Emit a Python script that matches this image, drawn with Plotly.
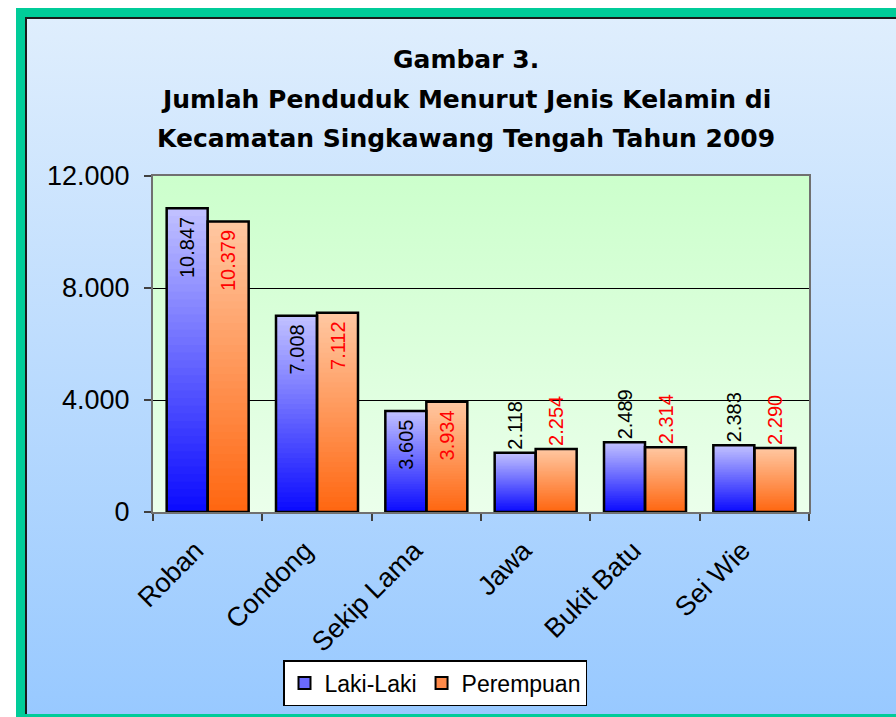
import base64
import plotly.graph_objects as go

# ---- data ----
categories = ["Roban", "Condong", "Sekip Lama", "Jawa", "Bukit Batu", "Sei Wie"]
laki = [10847, 7008, 3605, 2118, 2489, 2383]
perempuan = [10379, 7112, 3934, 2254, 2314, 2290]
series_names = ["Laki-Laki", "Perempuan"]
ytick_vals = [0, 4000, 8000, 12000]
ytick_text = ["0", "4.000", "8.000", "12.000"]
title_lines = ["Gambar 3.",
               "Jumlah Penduduk Menurut Jenis Kelamin di",
               "Kecamatan Singkawang Tengah Tahun 2009"]
label_pos = ["inside", "inside", "inside", "outside", "outside", "outside"]

W, H = 896, 717
ML, MR, MT, MB = 153, 87, 176, 205
PW, PH = W - ML - MR, H - MT - MB


def lerp(c1, c2, t):
    return "rgb(%d,%d,%d)" % tuple(round(a + (b - a) * t) for a, b in zip(c1, c2))


def fmt(v, pos):
    s = f"{v:,}".replace(",", ".")
    return s + "\u00a0" if pos == "inside" else s


fig = go.Figure()

N = 40
specs = [
    (laki, "L", (10, 10, 255), (194, 194, 255), "#000000", "#6a6aff"),
    (perempuan, "P", (255, 102, 16), (255, 200, 162), "#ff0000", "#ff8a4a"),
]
for vals, grp, bottom, top, tcol, legcol in specs:
    for k in range(N):
        frac = (N - k) / N
        t = (N - k - 0.5) / N
        fig.add_trace(go.Bar(
            x=categories, y=[v * frac for v in vals], offsetgroup=grp,
            marker=dict(color=lerp(bottom, top, t), line=dict(width=0)),
            showlegend=False, hoverinfo="skip"))
for (vals, grp, bottom, top, tcol, legcol), name in zip(specs, series_names):
    fig.add_trace(go.Bar(
        x=categories, y=vals, offsetgroup=grp, name=name,
        marker=dict(color="rgba(0,0,0,0)", line=dict(color="black", width=2.5)),
        text=[fmt(v, p) for v, p in zip(vals, label_pos)], textposition=label_pos,
        insidetextanchor="end", textangle=-90, constraintext="none",
        textfont=dict(family="Liberation Sans, Arial", size=20, color=tcol),
        cliponaxis=False, showlegend=False, hoverinfo="skip"))
for (vals, grp, bottom, top, tcol, legcol), name in zip(specs, series_names):
    fig.add_trace(go.Bar(
        x=[None], y=[None], offsetgroup=grp, name=name,
        marker=dict(color=legcol, line=dict(color="black", width=2)),
        showlegend=True))

# backgrounds
page_svg = f"""<svg xmlns="http://www.w3.org/2000/svg" width="{W}" height="{H}" viewBox="0 0 {W} {H}" preserveAspectRatio="none">
<defs><linearGradient id="g" x1="0" y1="0" x2="0" y2="1">
<stop offset="0" stop-color="#dfeefd"/><stop offset="1" stop-color="#98c9ff"/></linearGradient></defs>
<rect x="0" y="0" width="{W}" height="{H}" fill="#ffffff"/>
<rect x="16" y="8" width="{W-16}" height="{H-8}" fill="#00cc99"/>
<rect x="26" y="18" width="{W-26}" height="{H-18-3}" fill="url(#g)"/>
<rect x="25" y="17" width="{W-25}" height="2" fill="#1a1a1a"/>
<rect x="25" y="17" width="2" height="{H-17-3}" fill="#1a1a1a"/>
</svg>"""
plot_svg = """<svg xmlns="http://www.w3.org/2000/svg" width="100" height="100" viewBox="0 0 100 100" preserveAspectRatio="none">
<defs><linearGradient id="p" x1="0" y1="0" x2="0" y2="1">
<stop offset="0" stop-color="#ccffcc"/><stop offset="1" stop-color="#ebffeb"/></linearGradient></defs>
<rect x="0" y="0" width="100" height="100" fill="url(#p)"/></svg>"""


def uri(s):
    return "data:image/svg+xml;base64," + base64.b64encode(s.encode()).decode()


images = [
    dict(source=uri(page_svg), xref="paper", yref="paper",
         x=-ML / PW, y=1 + MT / PH, sizex=W / PW, sizey=H / PH,
         xanchor="left", yanchor="top", sizing="stretch", layer="below"),
    dict(source=uri(plot_svg), xref="paper", yref="paper",
         x=0, y=1, sizex=1, sizey=1,
         xanchor="left", yanchor="top", sizing="stretch", layer="below"),
]

title_y_px = [60, 100, 138]
annotations = []
for txt, ypx in zip(title_lines, title_y_px):
    annotations.append(dict(
        text=f"<b>{txt}</b>", xref="paper", yref="paper",
        x=(466 - ML) / PW, y=1 + (MT - ypx) / PH, xanchor="center", yanchor="middle",
        showarrow=False, font=dict(family="DejaVu Sans", size=25, color="black")))

fig.update_layout(
    width=W, height=H,
    margin=dict(l=ML, r=MR, t=MT, b=MB, pad=0, autoexpand=False),
    paper_bgcolor="white", plot_bgcolor="rgba(0,0,0,0)",
    images=images, annotations=annotations,
    barmode="group", bargap=0.25, bargroupgap=0,
    font=dict(family="Liberation Sans, Arial", color="black"),
    legend=dict(orientation="h", x=(435 - ML) / PW, y=(MT + PH - 683) / PH,
                xanchor="center", yanchor="middle",
                bgcolor="white", bordercolor="black", borderwidth=1.5,
                font=dict(family="Liberation Sans, Arial", size=23, color="black"),
                itemsizing="constant", itemwidth=30, tracegroupgap=0),
    showlegend=True,
)
fig.update_yaxes(range=[0, 12000], tickvals=ytick_vals, ticktext=ytick_text,
                 showgrid=True, gridcolor="black", gridwidth=1, zeroline=False,
                 showline=True, linecolor="#707070", linewidth=2, mirror=True,
                 ticks="outside", ticklen=7, tickcolor="#404040", tickwidth=1.5,
                 ticklabelstandoff=9,
                 tickfont=dict(family="Liberation Sans, Arial", size=27, color="black"))
fig.update_xaxes(tickson="boundaries", ticks="outside", ticklen=7,
                 tickcolor="#404040", tickwidth=1.5,
                 showline=True, linecolor="#707070", linewidth=2, mirror=True,
                 tickangle=-45, ticklabelstandoff=10, ticklabelshift=-12,
                 tickfont=dict(family="Liberation Sans, Arial", size=27, color="black"))

fig.write_html("out.html", config={"displayModeBar": False},
               post_script="document.body.style.margin='0';document.body.style.overflow='hidden';")
